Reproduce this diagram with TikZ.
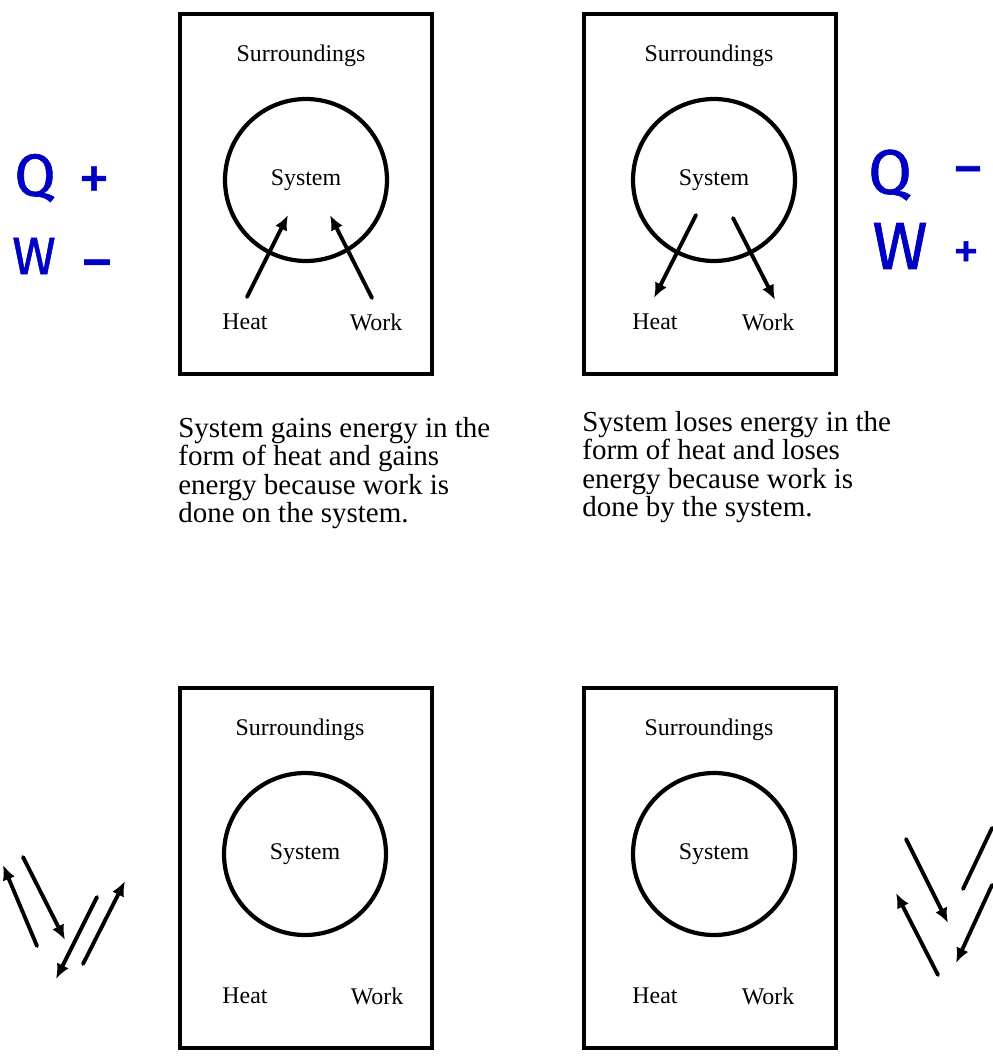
\documentclass[tikz,border=0pt]{standalone}
\usepackage{fontspec}
\setmainfont{Liberation Serif}
\newfontfamily\handfont[FakeBold=1.0]{Fira Sans}
\usetikzlibrary{arrows.meta}
\definecolor{PenBlue}{HTML}{0000C4}

\begin{document}
\begin{tikzpicture}[x=0.02cm,y=-0.02cm,
  every node/.style={font=\fontsize{13.6}{16}\selectfont,inner sep=1pt},
  panel/.style={draw,line width=2.4pt,minimum width=5.04cm,minimum height=7.2cm},
  sys/.style={circle,draw,line width=2.4pt,minimum size=3.24cm,inner sep=0pt},
  flow/.style={line width=2.2pt,line cap=round,-{Latex[length=3mm,width=2.6mm]}},
  caption/.style={anchor=north west,align=left,inner sep=0pt,
    font=\fontsize{16.5}{16.2}\selectfont},
  pen/.style={text=PenBlue,inner sep=0pt,font=\handfont\fontsize{#1}{#1}\selectfont}]
  \useasboundingbox (0,0) rectangle (992,1057);
  % the four panels
  \foreach \p/\x/\y/\sx/\hx/\wx in {a/180/14/306/245/376,b/584/14/714/655/768,
      c/180/688/305/245/377,d/584/688/714/655/768} {
    \node[panel] (box\p) at ({\x+126},{\y+180}) {};
    \node (sur\p) at ({\sx-5},{\y+42}) {Surroundings};
    \node[sys] (sys\p) at (\sx,{\y+166}) {System};
    \node (heat\p) at (\hx,{\y+308}) {Heat};
    \node (work\p) at (\wx,{\y+308}) {Work};
  }
  % arrows in the top panels
  \coordinate (hina) at (247,297); \coordinate (hinb) at (288,215);
  \coordinate (wina) at (372,298); \coordinate (winb) at (330,215);
  \coordinate (houta) at (696,215); \coordinate (houtb) at (654,298);
  \coordinate (wouta) at (733,218); \coordinate (woutb) at (775,300);
  \draw[flow] (hina) -- (hinb);
  \draw[flow] (wina) -- (winb);
  \draw[flow] (houta) -- (houtb);
  \draw[flow] (wouta) -- (woutb);
  % captions
  \node[caption] (capa) at (178,417) {System gains energy in the\\form of heat and gains\\energy because work is\\done on the system.};
  \node[caption] (capb) at (582,411) {System loses energy in the\\form of heat and loses\\energy because work is\\done by the system.};
  % pen notes
  \node[pen=34] (handQa) at (35,178) {Q};
  \node[pen=36] (handPa) at (94,183) {+};
  \node[pen=30] (handWa) at (34,256) {W};
  \node[pen=38] (handMa) at (97,272) {−};
  \node[pen=36] (handQb) at (890,175) {Q};
  \node[pen=36] (handMb) at (968,178) {−};
  \node[pen=38] (handWb) at (900,246) {W};
  \node[pen=30] (handPb) at (966,255) {+};
  % loose arrows beside the bottom panels
  \foreach \n/\ax/\ay/\bx/\by in {1/37/946/3/865,2/23/857/65/940,3/97/897/56/979,
      4/83/964/125/881,5/906/839/948/923,7/992/885/956/963,8/938/975/896/893} {
    \coordinate (s\n) at (\ax,\ay);
    \coordinate (e\n) at (\bx,\by);
    \draw[flow] (s\n) -- (e\n);
  }
  \coordinate (s6) at (963,889); \coordinate (e6) at (992,828);
  \draw[line width=2.2pt,line cap=round] (s6) -- (e6);
\end{tikzpicture}
\end{document}
